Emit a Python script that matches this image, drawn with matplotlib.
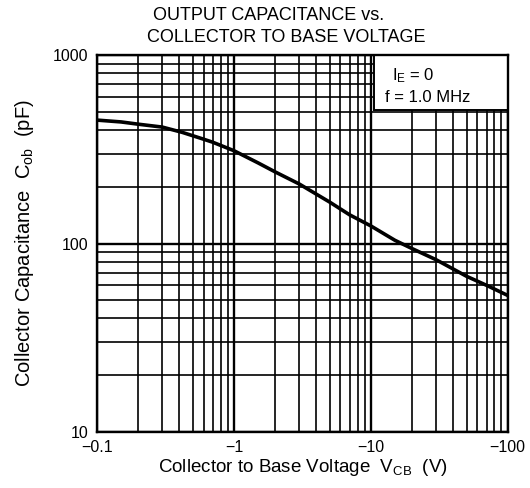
import matplotlib
matplotlib.use("Agg")
import matplotlib.pyplot as plt
from matplotlib.ticker import FixedLocator, FixedFormatter, NullFormatter
from matplotlib.patches import Rectangle

plt.rcParams['font.family'] = ['Liberation Sans', 'DejaVu Sans']
plt.rcParams['mathtext.fontset'] = 'custom'
plt.rcParams['mathtext.rm'] = 'Liberation Sans'
plt.rcParams['mathtext.it'] = 'Liberation Sans'

# Data (|V_CB| in volts, C_ob in pF)
vcb = [0.1, 0.15, 0.2, 0.3, 0.42, 0.6, 0.7, 1.0, 1.5, 2.0, 3.0, 5.0, 7.0, 10.0,
       15.0, 20.0, 30.0, 50.0, 70.0, 100.0]
cob = [452, 442, 430, 415, 389, 358, 345, 311, 268, 240, 207, 166, 142, 124,
       104, 94, 82, 67, 60, 53]

x_ticks = [0.1, 1, 10, 100]
x_tick_labels = ['\u22120.1', '\u22121', '\u221210', '\u2212100']
y_ticks = [10, 100, 1000]
y_tick_labels = ['10', '100', '1000']

fig = plt.figure(figsize=(5.30, 4.88), dpi=100)
ax = fig.add_axes([0.183, 0.115, 0.775, 0.772])
ax.set_xscale('log')
ax.set_yscale('log')
ax.set_xlim(0.1, 100)
ax.set_ylim(10, 1000)

ax.grid(which='major', color='black', linewidth=1.7)
ax.grid(which='minor', color='black', linewidth=1.2)
ax.set_axisbelow(True)

ax.plot(vcb, cob, color='black', linewidth=2.6, solid_capstyle='butt', zorder=3)

ax.xaxis.set_major_locator(FixedLocator(x_ticks))
ax.xaxis.set_major_formatter(FixedFormatter(x_tick_labels))
ax.xaxis.set_minor_formatter(NullFormatter())
ax.yaxis.set_major_locator(FixedLocator(y_ticks))
ax.yaxis.set_major_formatter(FixedFormatter(y_tick_labels))
ax.yaxis.set_minor_formatter(NullFormatter())
ax.tick_params(which='both', length=0, labelsize=11.5)
ax.tick_params(axis='x', pad=6)
ax.tick_params(axis='y', pad=6)
ax.get_yticklabels()[0].set_verticalalignment('center_baseline')

for s in ax.spines.values():
    s.set_linewidth(1.7)

# condition box
box = Rectangle((10.5, 510), 100 - 10.5, 1000 - 510, facecolor='white',
                edgecolor='black', linewidth=1.4, zorder=2.5)
ax.add_patch(box)
ax.text(14.2, 783, 'I$_{\\rm E}$ = 0', fontsize=12, ha='left', va='center', zorder=5)
ax.text(12.6, 598, 'f = 1.0 MHz', fontsize=12, ha='left', va='center', zorder=5)

ax.set_xlabel('Collector to Base Voltage  V$_{\\rm CB}$  (V)', fontsize=13.5, labelpad=1)
ax.set_ylabel('Collector Capacitance  C$_{\\rm ob}$  (pF)', fontsize=14.5, labelpad=12)

fig.text(153 / 530, 1 - 15 / 488, 'OUTPUT CAPACITANCE vs.', ha='left', va='center',
         fontsize=13)
fig.text(147 / 530, 1 - 37 / 488, 'COLLECTOR TO BASE VOLTAGE', ha='left', va='center',
         fontsize=13)

fig.savefig('out.png', dpi=100)
